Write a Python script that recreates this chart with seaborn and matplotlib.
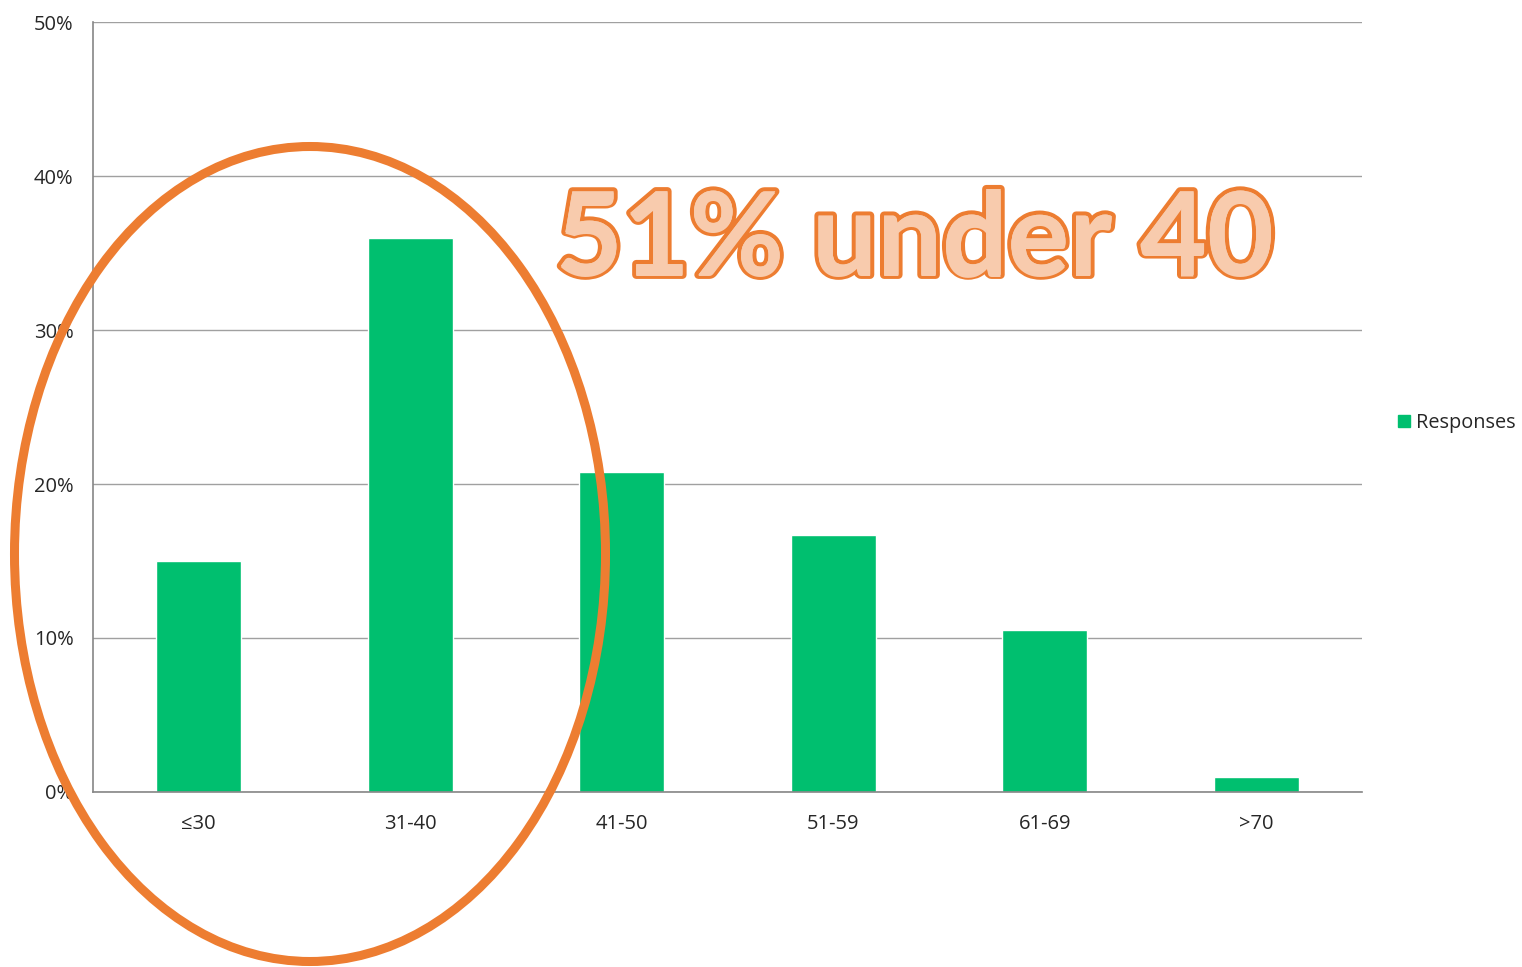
import matplotlib
matplotlib.use("Agg")
import matplotlib.pyplot as plt
import matplotlib.patheffects as pe
from matplotlib.patches import Ellipse
from matplotlib.lines import Line2D
from matplotlib.ticker import PercentFormatter
import seaborn as sns

# --- Datos ---
grupos = ["≤30", "31-40", "41-50", "51-59", "61-69", ">70"]
respuestas = [15.0, 36.0, 20.8, 16.7, 10.5, 1.0]
serie = "Responses"
titulo = "51% under 40"

verde = "#00BF6F"
naranja = "#ED7D31"
gris = "#868686"

sns.set_style("white")
plt.rcParams["font.family"] = ["Open Sans", "DejaVu Sans"]

fig = plt.figure(figsize=(15.22, 9.67), dpi=100)
ax = fig.add_axes([0.0611, 0.1810, 0.8338, 0.7962])

sns.barplot(x=grupos, y=respuestas, color=verde, width=0.4, saturation=1, ax=ax)

ax.set_xlim(-0.5, 5.5)
ax.set_ylim(0, 50)
ax.set_yticks(range(0, 51, 10))
ax.yaxis.set_major_formatter(PercentFormatter(xmax=100, decimals=0))
ax.grid(axis="y", color="#A0A0A0", linewidth=1)
ax.set_axisbelow(True)
for lado in ["top", "right"]:
    ax.spines[lado].set_visible(False)
for lado in ["left", "bottom"]:
    ax.spines[lado].set_color(gris)
    ax.spines[lado].set_linewidth(1.2)

ax.set_xticks([i - 0.5 for i in range(7)], minor=True)
ax.tick_params(axis="x", which="major", length=0, pad=16, labelsize=14.5)
ax.tick_params(axis="x", which="minor", length=6, color=gris, width=1)
ax.tick_params(axis="y", length=6, color=gris, width=1, pad=8, labelsize=14.5)
ax.set_xlabel("")
ax.set_ylabel("")

leyenda = [Line2D([0], [0], marker="s", color="none", markerfacecolor=verde,
                  markeredgecolor=verde, markersize=9, label=serie)]
fig.legend(handles=leyenda, loc="center left", bbox_to_anchor=(0.904, 0.5625),
           frameon=False, fontsize=14.3, handletextpad=0.1, handlelength=1.0)

# anotación
fig.text(0.601, 0.750, titulo, ha="center", va="center", fontsize=83,
         fontweight="bold", family=["Lato", "DejaVu Sans"], color="#F8CBAD",
         path_effects=[pe.withStroke(linewidth=6, foreground=naranja),
                       pe.Normal()])
fig.text(0.601, 0.750, titulo, ha="center", va="center", fontsize=83,
         fontweight="bold", family=["Lato", "DejaVu Sans"], color="#F8CBAD")

fig.patches.append(Ellipse((310 / 1522, 1 - 554 / 967), 591 / 1522, 815 / 967,
                           transform=fig.transFigure, fill=False,
                           edgecolor=naranja, linewidth=6.5, zorder=10))

fig.savefig("out.png", dpi=100)
